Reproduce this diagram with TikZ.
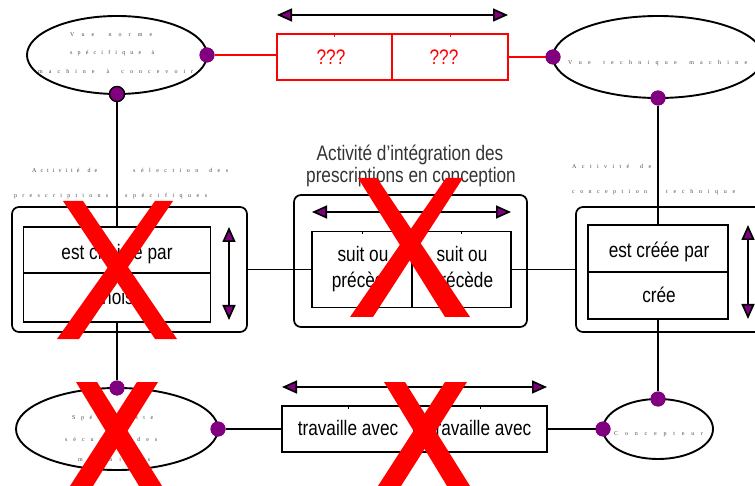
\documentclass[tikz,border=0pt]{standalone}
\usepackage{fontspec}
\setmainfont{Liberation Sans}
\newfontfamily\lblfont[FakeStretch=0.82]{Liberation Sans}
\newfontfamily\tinyserif{Liberation Serif}
\usetikzlibrary{shapes.geometric,arrows.meta}
\definecolor{dotpurple}{HTML}{800080}
% letters spread evenly over a given width; "|" marks a word gap
\ExplSyntaxOn
\NewDocumentCommand\spacedword{mm}
  {\hbox~to~#1{\tl_map_inline:nn{#2}{\str_if_eq:nnTF{##1}{|}{\hfil}{##1\hfil}}\unskip}}
\ExplSyntaxOff
\tikzset{
  ln/.style={line width=1.8pt},
  oval/.style={ellipse, draw, line width=1.9pt, inner sep=0pt, outer sep=0pt},
  dot/.style={circle, fill=dotpurple, inner sep=0pt, minimum size=15pt},
  cell/.style={draw, line width=1.7pt, inner sep=0pt, outer sep=0pt},
  outerbox/.style={draw, line width=1.7pt, inner sep=0pt, outer sep=0pt, rounded corners=7pt},
  lbl/.style={font=\lblfont\fontsize{21}{28}\selectfont, anchor=base, inner sep=0pt},
  tiny/.style={font=\tinyserif\fontsize{6}{7}\selectfont, text=black!70, anchor=west, inner sep=0pt},
  dblarrow/.style={line width=1.7pt,
    {Triangle[length=15pt,width=13pt,fill=dotpurple]}-{Triangle[length=15pt,width=13pt,fill=dotpurple]}},
  tick/.style={line width=1pt},
  cross/.style={fill=red}
}
\begin{document}
\begin{tikzpicture}[x=1pt,y=-1pt]
\useasboundingbox (0,0) rectangle (755,486);
\clip (0,0) rectangle (755,486);

% ---- ellipses (views and actors)
\node[oval, minimum width=180pt, minimum height=78pt] (vnorm) at (117,55) {};
\node[oval, minimum width=210pt, minimum height=82pt] (vtech) at (658,57) {};
\node[oval, minimum width=202pt, minimum height=82pt] (spec) at (117,429) {};
\node[oval, minimum width=110pt, minimum height=60pt] (conc) at (658,429) {};

% ---- red relation box at the top
\node[cell, draw=red, minimum width=115pt, minimum height=46pt] (q1) at (334.5,57) {};
\node[cell, draw=red, minimum width=116pt, minimum height=46pt] (q2) at (450,57) {};

% ---- activity blocks
\node[outerbox, minimum width=235pt, minimum height=125pt] (lout) at (129.5,269.5) {};
\node[cell, minimum width=187pt, minimum height=46pt] (ls1) at (117,250) {};
\node[cell, minimum width=187pt, minimum height=49pt] (ls2) at (117,297.5) {};

\node[outerbox, minimum width=233pt, minimum height=132pt] (mout) at (410.5,261) {};
\node[cell, minimum width=100pt, minimum height=76pt] (mc1) at (362,269.5) {};
\node[cell, minimum width=99pt, minimum height=76pt] (mc2) at (461.5,269.5) {};

\node[outerbox, minimum width=186pt, minimum height=125pt] (rout) at (669,269.5) {};
\node[cell, minimum width=140pt, minimum height=47pt] (rc1) at (658,248.5) {};
\node[cell, minimum width=140pt, minimum height=47pt] (rc2) at (658,295.5) {};

% ---- bottom relation box
\node[cell, minimum width=132pt, minimum height=46pt] (b1) at (348,429) {};
\node[cell, minimum width=133pt, minimum height=46pt] (b2) at (480.5,429) {};

% ---- small ticks at the top of the relation cells
\foreach \c in {mc1,mc2,b1,b2} \draw[tick] (\c.north) -- ++(0,3);
\foreach \c in {q1,q2} \draw[tick, red] (\c.north) -- ++(0,3);

% ---- connection dots
\node[dot] (dTLe) at (vnorm.east) {};
\node[dot, draw=black, line width=1.2pt] (dTLs) at (vnorm.south) {};
\node[dot] (dTRw) at (vtech.west) {};
\node[dot] (dTRs) at (vtech.south) {};
\node[dot] (dBLn) at (spec.north) {};
\node[dot] (dBLe) at (spec.east) {};
\node[dot] (dBRn) at (conc.north) {};
\node[dot] (dBRw) at (conc.west) {};

% ---- connectors
\draw[ln, red] (dTLe) -- (dTLe -| q1.west);
\draw[ln, red] (q2.east) -- (q2.east -| dTRw);
\draw[ln] (dTLs) -- (ls1.north);
\draw[ln] (ls2.south) -- (dBLn);
\draw[ln] (dTRs) -- (rc1.north);
\draw[ln] (rc2.south) -- (dBRn);
\draw[ln] (lout.east) -- (mc1.west);
\draw[ln] (mc2.east) -- (rout.west);
\draw[ln] (dBLe) -- (dBLe -| b1.west);
\draw[ln] (b2.east) -- (b2.east -| dBRw);
% redraw dots above the lines
\foreach \d in {dTLe,dTRw,dTRs,dBLn,dBLe,dBRn,dBRw} \fill[dotpurple] (\d) circle (7.5pt);
\filldraw[fill=dotpurple, draw=black, line width=1.2pt] (dTLs) circle (7.5pt);

% ---- double arrows
\coordinate (ta1) at (277,15);   \coordinate (ta2) at (508,15);
\coordinate (ma1) at (312,212);  \coordinate (ma2) at (511,212);
\coordinate (ba1) at (282,387);  \coordinate (ba2) at (547,387);
\coordinate (la1) at (229,227);  \coordinate (la2) at (229,320);
\coordinate (ra1) at (748,225);  \coordinate (ra2) at (748,319);
\draw[dblarrow] (ta1) -- (ta2);
\draw[dblarrow] (ma1) -- (ma2);
\draw[dblarrow] (ba1) -- (ba2);
\draw[dblarrow] (la1) -- (la2);
\draw[dblarrow] (ra1) -- (ra2);

% ---- small spaced captions
\node[tiny] (t1) at (70,35) {\spacedword{82pt}{Vue|norme}};
\node[tiny] (t2) at (70,53) {\spacedword{84pt}{spécifique|à}};
\node[tiny] (t3) at (38,71) {\spacedword{155pt}{machine|à|concevoir}};
\node[tiny] (t4) at (568,63) {\spacedword{179pt}{Vue|technique|machine}};
\node[tiny] (t5) at (32,170) {\spacedword{65pt}{Activité|de}};
\node[tiny] (t6) at (133,170) {\spacedword{95pt}{sélection|des}};
\node[tiny] (t7) at (14,196) {\spacedword{94pt}{prescriptions}};
\node[tiny] (t8) at (125,196) {\spacedword{82pt}{spécifiques}};
\node[tiny] (t9) at (572,166) {\spacedword{79pt}{Activité|de}};
\node[tiny] (t10) at (572,192) {\spacedword{75pt}{conception}};
\node[tiny] (t11) at (666,192) {\spacedword{69pt}{technique}};
\node[tiny] (t12) at (72,418) {\spacedword{81pt}{Spécialiste}};
\node[tiny] (t13) at (65,439) {\spacedword{92pt}{sécurité|des}};
\node[tiny] (t14) at (78,459) {\spacedword{72pt}{machines}};
\node[tiny] (t15) at (614,434) {\spacedword{89pt}{Concepteur}};

% ---- labels
\node[lbl, text=black!80] (title1) at (410,161) {Activité d’intégration des};
\node[lbl, text=black!80] (title2) at (411,183) {prescriptions en conception};
\node[lbl, text=red] (lq1) at (331,65) {???};
\node[lbl, text=red] (lq2) at (444,65) {???};
\node[lbl] (lls1) at (117,260) {est choisie par};
\node[lbl] (lls2) at (118,305) {choisit};
\node[lbl] (lmc1a) at (363,262) {suit ou};
\node[lbl] (lmc1b) at (363,288) {précède};
\node[lbl] (lmc2a) at (462,262) {suit ou};
\node[lbl] (lmc2b) at (462,288) {précède};
\node[lbl] (lrc1) at (659,258) {est créée par};
\node[lbl] (lrc2) at (659,303) {crée};
\node[lbl] (lb1) at (348,435) {travaille avec};
\node[lbl] (lb2) at (481,435) {travaille avec};

% ---- red crosses
\fill[cross] (63,201) -- (83,201) -- (177,339) -- (155,339) -- cycle;
\fill[cross] (155,201) -- (173,201) -- (79,339) -- (57,339) -- cycle;
\fill[cross] (358,178) -- (377,178) -- (470,317) -- (445,317) -- cycle;
\fill[cross] (446,178) -- (463,178) -- (373,317) -- (350,317) -- cycle;
\fill[cross] (76,382) -- (97,382) -- (162,486) -- (139,486) -- cycle;
\fill[cross] (137,382) -- (158,382) -- (93,486) -- (70,486) -- cycle;
\fill[cross] (384,382) -- (405,382) -- (470,486) -- (447,486) -- cycle;
\fill[cross] (445,382) -- (467,382) -- (401,486) -- (378,486) -- cycle;
\end{tikzpicture}
\end{document}
